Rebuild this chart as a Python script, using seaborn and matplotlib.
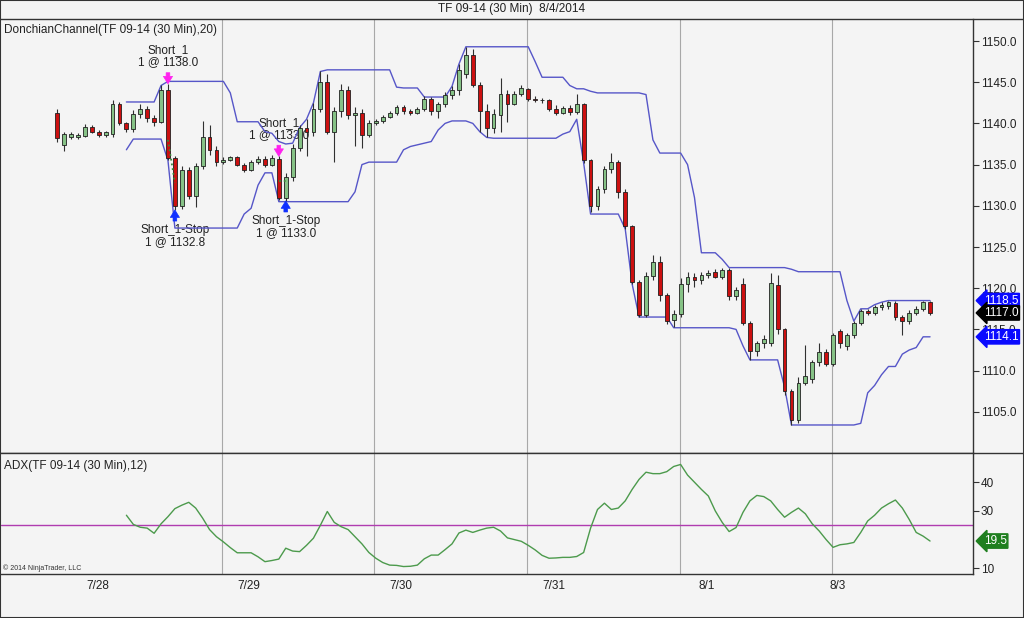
import numpy as np
import pandas as pd
import matplotlib
matplotlib.use("Agg")
import matplotlib.pyplot as plt
import matplotlib.transforms as mtransforms
from matplotlib.lines import Line2D
from matplotlib.patches import Rectangle
import seaborn as sns

# --- DATA (one entry per bar, bar index = x) ---
opens = [
    1141.3, 1137.4, 1138.4, 1138.3, 1138.5, 1139.6, 1139.0, 1138.6, 1138.7, 1142.4,
    1140.0, 1139.3, 1141.2, 1141.8, 1140.6, 1140.2, 1144.0, 1135.8, 1130.0, 1134.3,
    1131.2, 1134.8, 1138.4, 1136.8, 1135.3, 1135.6, 1135.9, 1135.0, 1134.4, 1135.3,
    1135.7, 1135.0, 1135.7, 1131.0, 1133.5, 1137.0, 1139.5, 1139.0, 1141.8, 1145.0,
    1139.0, 1141.5, 1144.0, 1141.0, 1141.3, 1138.6, 1140.0, 1140.3, 1140.8, 1141.3,
    1142.0, 1141.5, 1141.3, 1141.8, 1143.0, 1141.5, 1142.4, 1143.4, 1144.0, 1146.0,
    1148.3, 1144.7, 1141.5, 1139.5, 1141.0, 1143.6, 1142.4, 1143.6, 1144.2, 1143.0,
    1142.9, 1142.8, 1141.8, 1141.3, 1141.9, 1141.4, 1142.3, 1135.5, 1130.0, 1132.0,
    1134.5, 1135.3, 1131.7, 1127.5, 1120.8, 1116.8, 1121.5, 1123.2, 1119.2, 1116.2,
    1116.9, 1120.5, 1121.4, 1121.0, 1121.6, 1122.0, 1121.4, 1122.2, 1119.0, 1120.5,
    1115.8, 1112.4, 1113.3, 1113.3, 1120.4, 1115.0, 1107.5, 1104.0, 1108.5, 1109.0,
    1111.0, 1112.2, 1110.8, 1114.8, 1113.0, 1114.3, 1115.8, 1117.2, 1117.0, 1117.7,
    1117.8, 1118.2, 1116.5, 1116.0, 1117.0, 1117.5, 1118.3,
]
highs = [
    1141.8, 1139.0, 1138.9, 1138.8, 1139.9, 1139.8, 1139.2, 1139.1, 1142.8, 1142.6,
    1140.2, 1141.6, 1142.3, 1142.1, 1141.0, 1144.6, 1144.8, 1136.0, 1134.8, 1134.7,
    1135.2, 1140.3, 1139.8, 1137.2, 1135.9, 1136.1, 1136.1, 1135.2, 1135.6, 1136.0,
    1136.0, 1136.2, 1136.0, 1134.0, 1137.5, 1139.8, 1140.5, 1142.5, 1146.3, 1146.0,
    1142.0, 1144.8, 1144.5, 1142.0, 1141.8, 1140.4, 1140.5, 1141.0, 1141.5, 1142.2,
    1142.2, 1141.7, 1142.0, 1143.3, 1143.2, 1142.6, 1143.8, 1144.5, 1147.2, 1149.3,
    1149.0, 1145.0, 1142.3, 1141.8, 1145.5, 1144.0, 1143.9, 1144.6, 1144.3, 1143.3,
    1143.1, 1143.0, 1142.2, 1142.1, 1142.2, 1143.6, 1142.5, 1135.7, 1132.4, 1134.8,
    1136.4, 1135.5, 1132.0, 1127.7, 1121.0, 1122.0, 1124.0, 1123.9, 1119.4, 1117.3,
    1121.2, 1122.0, 1121.9, 1122.0, 1122.2, 1122.3, 1122.5, 1122.4, 1120.2, 1121.2,
    1116.0, 1113.6, 1114.3, 1121.8, 1121.6, 1115.2, 1107.8, 1109.2, 1113.1, 1111.3,
    1113.3, 1112.6, 1114.6, 1115.1, 1114.6, 1116.0, 1117.5, 1117.5, 1118.0, 1118.3,
    1118.5, 1118.4, 1116.8, 1117.3, 1117.8, 1118.5, 1118.5,
]
lows = [
    1137.8, 1136.7, 1138.1, 1138.1, 1138.3, 1138.8, 1138.4, 1138.4, 1138.4, 1139.8,
    1138.9, 1139.0, 1140.6, 1140.2, 1139.7, 1140.0, 1135.5, 1129.5, 1129.6, 1130.8,
    1129.8, 1134.5, 1136.2, 1134.8, 1135.1, 1135.4, 1134.8, 1134.1, 1134.2, 1135.1,
    1134.7, 1134.8, 1130.7, 1130.6, 1133.0, 1136.6, 1136.0, 1138.5, 1141.4, 1138.7,
    1135.3, 1140.8, 1140.5, 1137.2, 1137.0, 1138.4, 1139.8, 1140.0, 1140.6, 1141.0,
    1141.2, 1141.0, 1141.1, 1141.5, 1141.0, 1140.7, 1142.0, 1143.0, 1143.5, 1145.5,
    1144.4, 1139.0, 1138.3, 1138.8, 1139.0, 1140.2, 1142.2, 1143.3, 1142.7, 1142.6,
    1142.5, 1141.5, 1141.0, 1141.1, 1141.0, 1141.2, 1135.2, 1129.2, 1129.5, 1131.5,
    1134.0, 1131.0, 1127.2, 1120.5, 1116.5, 1116.5, 1121.0, 1118.5, 1115.6, 1115.3,
    1116.5, 1119.5, 1120.2, 1120.5, 1121.2, 1121.2, 1121.1, 1118.6, 1118.6, 1115.5,
    1111.3, 1111.8, 1112.8, 1113.0, 1114.5, 1107.0, 1103.4, 1103.6, 1108.2, 1108.5,
    1110.5, 1110.5, 1110.5, 1112.8, 1112.5, 1114.0, 1115.5, 1116.7, 1116.8, 1117.4,
    1117.5, 1116.2, 1114.3, 1115.6, 1116.7, 1117.2, 1116.8,
]
closes = [
    1138.2, 1138.7, 1138.7, 1138.6, 1139.6, 1139.0, 1138.6, 1138.9, 1142.4, 1140.0,
    1139.3, 1141.2, 1141.8, 1140.6, 1140.2, 1144.0, 1135.8, 1130.0, 1134.3, 1131.2,
    1134.8, 1138.4, 1136.8, 1135.3, 1135.6, 1135.9, 1135.0, 1134.4, 1135.3, 1135.7,
    1135.0, 1135.8, 1131.0, 1133.5, 1137.0, 1139.5, 1139.0, 1141.8, 1145.0, 1139.0,
    1141.5, 1144.0, 1141.0, 1141.3, 1138.6, 1140.0, 1140.3, 1140.8, 1141.3, 1142.0,
    1141.5, 1141.3, 1141.8, 1143.0, 1141.5, 1142.4, 1143.4, 1144.0, 1146.5, 1148.3,
    1144.7, 1141.5, 1139.5, 1141.2, 1143.6, 1142.4, 1143.6, 1144.3, 1143.0, 1142.9,
    1142.8, 1141.8, 1141.3, 1141.9, 1141.4, 1142.3, 1135.5, 1130.0, 1132.0, 1134.5,
    1135.3, 1131.7, 1127.5, 1120.8, 1116.8, 1121.5, 1123.2, 1119.2, 1116.0, 1116.9,
    1120.5, 1121.4, 1121.0, 1121.6, 1121.8, 1121.4, 1122.2, 1119.0, 1119.8, 1115.8,
    1112.4, 1113.3, 1113.8, 1120.6, 1115.0, 1107.5, 1104.0, 1108.5, 1109.3, 1111.0,
    1112.2, 1110.8, 1114.3, 1113.3, 1114.3, 1115.8, 1117.2, 1117.0, 1117.7, 1118.0,
    1118.3, 1116.5, 1116.0, 1117.0, 1117.5, 1118.3, 1117.0,
]

# Donchian channel (20), starts at bar 10
channel_start = 10
upper = [
    1142.6, 1142.6, 1142.6, 1142.6, 1142.6, 1144.6, 1145.1, 1145.1, 1145.1, 1145.1,
    1145.1, 1145.1, 1145.1, 1145.1, 1145.1, 1143.7, 1140.2, 1140.2, 1140.2, 1140.2,
    1139.0, 1138.8, 1137.8, 1137.5, 1137.6, 1139.5, 1140.5, 1142.5, 1146.3, 1146.5,
    1146.5, 1146.5, 1146.5, 1146.5, 1146.5, 1146.5, 1146.5, 1146.5, 1146.5, 1144.4,
    1144.3, 1144.3, 1144.3, 1143.2, 1143.2, 1143.2, 1143.2, 1144.5, 1147.2, 1149.3,
    1149.3, 1149.3, 1149.3, 1149.3, 1149.3, 1149.3, 1149.3, 1149.3, 1149.3, 1147.5,
    1145.6, 1145.6, 1145.6, 1145.6, 1144.6, 1144.2, 1144.2, 1143.9, 1143.7, 1143.7,
    1143.7, 1143.7, 1143.7, 1143.7, 1143.7, 1143.5, 1138.0, 1136.4, 1136.4, 1136.4,
    1136.4, 1135.0, 1131.0, 1124.3, 1124.3, 1124.3, 1123.5, 1122.5, 1122.5, 1122.5,
    1122.5, 1122.5, 1122.5, 1122.5, 1122.5, 1122.5, 1122.3, 1122.0, 1122.0, 1122.0,
    1122.0, 1122.0, 1122.0, 1122.0, 1118.5, 1116.0, 1117.5, 1117.5, 1118.0, 1118.3,
    1118.5, 1118.5, 1118.5, 1118.5, 1118.5, 1118.5, 1118.5,
]
lower = [
    1136.8, 1138.1, 1138.1, 1138.1, 1138.1, 1138.1, 1135.5, 1127.3, 1127.3, 1127.3,
    1127.3, 1127.3, 1127.3, 1127.3, 1127.3, 1127.3, 1127.3, 1129.0, 1129.7, 1132.5,
    1134.0, 1134.0, 1130.5, 1130.5, 1130.5, 1130.5, 1130.5, 1130.5, 1130.5, 1130.5,
    1130.5, 1130.5, 1130.5, 1131.7, 1135.0, 1135.3, 1135.3, 1135.3, 1135.3, 1135.3,
    1136.8, 1137.2, 1137.4, 1137.6, 1137.8, 1139.2, 1140.0, 1140.3, 1140.3, 1140.3,
    1140.0, 1139.0, 1138.3, 1138.2, 1138.2, 1138.2, 1138.2, 1138.2, 1138.2, 1138.2,
    1138.2, 1138.2, 1138.2, 1138.7, 1139.0, 1140.5, 1135.2, 1129.0, 1129.0, 1129.0,
    1129.0, 1129.0, 1127.2, 1120.5, 1116.5, 1116.5, 1116.5, 1116.5, 1116.5, 1115.2,
    1115.2, 1115.2, 1115.2, 1115.2, 1115.2, 1115.2, 1115.2, 1115.2, 1115.0, 1113.0,
    1111.3, 1111.3, 1111.3, 1111.3, 1111.3, 1108.0, 1103.4, 1103.4, 1103.4, 1103.4,
    1103.4, 1103.4, 1103.4, 1103.4, 1103.4, 1103.4, 1103.6, 1107.3, 1108.2, 1109.5,
    1110.5, 1110.5, 1112.0, 1112.5, 1112.8, 1114.1, 1114.1,
]

# ADX(12), starts at bar 10
adx_start = 10
adx = [
    28.5, 25.3, 24.3, 24.0, 22.2, 25.5, 28.0, 30.8, 32.0, 33.0,
    31.0, 27.5, 23.5, 21.0, 19.2, 17.2, 15.4, 15.4, 15.4, 14.0,
    12.3, 12.7, 13.2, 17.0, 16.0, 15.8, 18.0, 20.5, 25.0, 29.8,
    26.0, 24.5, 23.5, 21.0, 18.5, 15.5, 13.5, 12.0, 11.1, 11.0,
    10.6, 10.7, 11.1, 13.3, 14.6, 14.6, 16.5, 18.5, 22.3, 23.3,
    22.5, 23.3, 24.0, 24.3, 23.0, 20.6, 20.0, 19.4, 18.0, 16.4,
    14.5, 13.5, 13.6, 13.8, 13.8, 14.1, 15.5, 24.0, 30.5, 32.7,
    30.5, 31.0, 33.5, 37.5, 41.0, 43.5, 43.0, 43.0, 43.7, 45.5,
    46.2, 42.5, 40.0, 37.5, 35.2, 30.0, 26.0, 22.8, 24.2, 29.5,
    33.5, 35.4, 35.0, 33.5, 30.5, 27.8, 29.5, 31.0, 29.0, 25.5,
    23.0, 20.0, 17.3, 18.2, 18.5, 19.0, 22.5, 26.5, 28.5, 31.0,
    32.5, 33.8, 31.0, 27.0, 22.5, 21.2, 19.5,
]
adx_level = 25

# Trades
entry_bars = [16, 32]
entry_prices = [1138.0, 1133.0]
exit_bars = [17, 33]
exit_prices = [1132.8, 1133.0]

session_breaks = [23.8, 45.7, 67.8, 89.9, 111.8]
date_ticks = [5.8, 27.6, 49.6, 71.7, 93.7, 112.6]
date_labels = ["7/28", "7/29", "7/30", "7/31", "8/1", "8/3"]
price_ticks = [1105, 1110, 1115, 1120, 1125, 1130, 1135, 1140, 1145, 1150]
adx_ticks = [10, 30, 40]

# --- STYLE ---
BG = "#f4f4f4"
UP = "#86c286"
DOWN = "#cc1010"
CHANNEL = "#5656c8"
FONT = ["Liberation Sans", "DejaVu Sans"]

sns.set_theme(style="white")
plt.rcParams["font.family"] = FONT

bars = pd.DataFrame({"o": opens, "h": highs, "l": lows, "c": closes})
bars["x"] = np.arange(len(bars))
bars["up"] = bars["c"] >= bars["o"]

chan = pd.DataFrame({"x": np.arange(channel_start, channel_start + len(upper)),
                     "upper": upper, "lower": lower})
adx_df = pd.DataFrame({"x": np.arange(adx_start, adx_start + len(adx)), "adx": adx})

W, H = 1024, 618
fig = plt.figure(figsize=(W / 100, H / 100), dpi=100, facecolor=BG)
ax = fig.add_axes([1 / W, 1 - 453 / H, 972 / W, 434 / H], facecolor=BG)
ax2 = fig.add_axes([1 / W, 1 - 574 / H, 972 / W, 121 / H], facecolor=BG, sharex=ax)

# session separators
for a in (ax, ax2):
    for s in session_breaks:
        a.axvline(s, color="#a8a8a8", lw=0.8, zorder=0)

# candles
ax.vlines(bars["x"], bars["l"], bars["h"], color="#303030", lw=0.8, zorder=3)
body_lo = np.minimum(bars["o"], bars["c"])
body_hi = np.maximum(bars["o"], bars["c"])
ax.bar(bars["x"], (body_hi - body_lo).clip(lower=0.08), bottom=body_lo, width=0.55,
       color=np.where(bars["up"], UP, DOWN), edgecolor="#202020", linewidth=0.6, zorder=4)

# donchian channel
sns.lineplot(data=chan, x="x", y="upper", ax=ax, color=CHANNEL, lw=1.0, zorder=2)
sns.lineplot(data=chan, x="x", y="lower", ax=ax, color=CHANNEL, lw=1.0, zorder=2)

# trade markers
arrow_style = "simple,head_width=0.55,head_length=0.45,tail_width=0.22"
for eb, ep, xb, xp in zip(entry_bars, entry_prices, exit_bars, exit_prices):
    ax.plot([eb, xb], [ep, xp], ls=":", color="#3a8a3a", lw=1.3, zorder=5)
    ax.annotate("", xy=(eb, highs[eb]), xytext=(0, 8), textcoords="offset points",
                arrowprops=dict(arrowstyle=arrow_style, color="#ff22ee", lw=0.5,
                                shrinkA=0, shrinkB=0), zorder=6)
    ax.annotate(f"Short_1\n1 @ {ep:.1f}", xy=(eb, highs[eb]), xytext=(0, 11),
                textcoords="offset points", ha="center", va="bottom", fontsize=8.5,
                linespacing=1.05, color="#222222", zorder=1)
    ax.annotate("", xy=(xb, lows[xb]), xytext=(0, -8), textcoords="offset points",
                arrowprops=dict(arrowstyle=arrow_style, color="#1030ff", lw=0.5,
                                shrinkA=0, shrinkB=0), zorder=6)
    ax.annotate(f"Short_1-Stop\n1 @ {xp:.1f}", xy=(xb, lows[xb]), xytext=(0, -10),
                textcoords="offset points", ha="center", va="top", fontsize=8.5,
                linespacing=1.05, color="#222222", zorder=1)

# adx
sns.lineplot(data=adx_df, x="x", y="adx", ax=ax2, color="#4c9a4c", lw=1.0, zorder=3)
ax2.axhline(adx_level, color="#b03cb0", lw=1.0, zorder=2)

# axes limits & ticks
ax.set_xlim(-8.1, 132.2)
ax.set_ylim(1100, 1152.67)
ax2.set_ylim(8.0, 50.2)
for a in (ax, ax2):
    a.yaxis.tick_right()
    a.set_xlabel("")
    a.set_ylabel("")
    a.tick_params(axis="y", direction="out", length=4, width=0.8, color="#333333",
                  labelsize=8.5, pad=1.5, labelcolor="#222222")
    for side in ("left", "top"):
        a.spines[side].set_visible(False)
    for side in ("right", "bottom"):
        a.spines[side].set_color("#333333")
        a.spines[side].set_linewidth(1.0)
ax.set_yticks(price_ticks)
ax.set_yticklabels([f"{p:.1f}" for p in price_ticks])
ax2.set_yticks(adx_ticks)
ax2.set_yticklabels([str(t) for t in adx_ticks])
ax.tick_params(axis="x", length=0, labelbottom=False)
ax2.set_xticks(date_ticks)
ax2.set_xticklabels(date_labels)
ax2.tick_params(axis="x", length=0, labelsize=8.5, pad=4, labelcolor="#222222")

# last-value flags
tr = mtransforms.blended_transform_factory(ax.transAxes, ax.transData)
for val, col in ((upper[-1], "#0a0aff"), (closes[-1], "#000000"), (lower[-1], "#0a0aff")):
    ax.text(1.011, val, f"{val:.1f}", transform=tr, ha="left", va="center", fontsize=8.5,
            color="white", zorder=20, clip_on=False,
            bbox=dict(boxstyle="larrow,pad=0.1", fc=col, ec=col))
tr2 = mtransforms.blended_transform_factory(ax2.transAxes, ax2.transData)
ax2.text(1.011, adx[-1], f"{adx[-1]:.1f}", transform=tr2, ha="left", va="center",
         fontsize=8.5, color="white", zorder=20, clip_on=False,
         bbox=dict(boxstyle="larrow,pad=0.1", fc="#1f7f1f", ec="#1f7f1f"))

# panel captions
ax.text(3 / 972, 1 - 11 / 434, "DonchianChannel(TF 09-14 (30 Min),20)", transform=ax.transAxes,
        ha="left", va="center", fontsize=8.5, color="#222222")
ax2.text(3 / 972, 1 - 13 / 121, "ADX(TF 09-14 (30 Min),12)", transform=ax2.transAxes,
         ha="left", va="center", fontsize=8.5, color="#222222")
ax2.text(2 / 972, 6 / 121, "© 2014 NinjaTrader, LLC", transform=ax2.transAxes,
         ha="left", va="center", fontsize=5, color="#333333")
fig.text(0.5, 1 - 9 / H, "TF 09-14 (30 Min)  8/4/2014", ha="center", va="center",
         fontsize=8.5, color="#222222")

# frame lines
for yy in (19, 453):
    fig.add_artist(Line2D([0, 1], [1 - yy / H, 1 - yy / H], transform=fig.transFigure,
                          color="#333333", lw=1.0))
fig.add_artist(Rectangle((0, 0), 1, 1, transform=fig.transFigure, fill=False,
                         ec="#333333", lw=1.5))

fig.savefig("out.png", dpi=100, facecolor=BG)
